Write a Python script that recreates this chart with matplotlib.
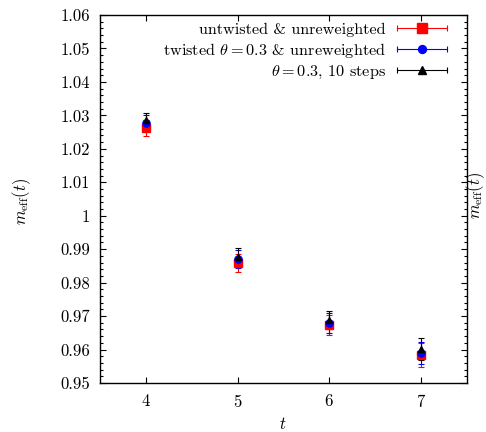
import numpy as np
import matplotlib
matplotlib.use('Agg')
import matplotlib.pyplot as plt
from matplotlib.lines import Line2D
from matplotlib.legend_handler import HandlerBase
from matplotlib.ticker import MultipleLocator, FuncFormatter

plt.rcParams['font.family'] = 'serif'
plt.rcParams['font.serif'] = ['cmr10', 'DejaVu Serif']
plt.rcParams['mathtext.fontset'] = 'cm'
plt.rcParams['axes.formatter.use_mathtext'] = True
plt.rcParams['font.size'] = 12

# effective mass per time slice
t = [4, 5, 6, 7]
m_untw = [1.0262, 0.9859, 0.9673, 0.9584]
e_untw = [0.0025, 0.0027, 0.0030, 0.0035]
m_tw = [1.0277, 0.9871, 0.9679, 0.9590]
e_tw = [0.0024, 0.0027, 0.0030, 0.0032]
m_rw = [1.0286, 0.9877, 0.9688, 0.9601]
e_rw = [0.0022, 0.0027, 0.0028, 0.0033]

labels = ['untwisted & unreweighted',
          r'twisted $\theta=0.3$ & unreweighted',
          r'$\theta=0.3$, 10 steps']
colors = ['#ff0000', '#0000ff', '#000000']
markers = ['s', 'o', '^']
msizes = [6.0, 5.2, 4.6]


class ErrBarHandler(HandlerBase):
    # horizontal sample line with end caps and marker in the middle
    def create_artists(self, legend, orig_handle, xdescent, ydescent,
                       width, height, fontsize, trans):
        y = height / 2 - ydescent
        x0, x1 = -xdescent, width - xdescent
        c = orig_handle.get_color()
        ln = Line2D([x0, x1], [y, y], color=c, lw=0.8)
        caps = Line2D([x0, x1], [y, y], ls='none', marker='|', ms=5,
                      mew=0.8, color=c)
        mk = Line2D([(x0 + x1) / 2], [y], ls='none',
                    marker=orig_handle.get_marker(),
                    ms=orig_handle.get_markersize() * 1.1, color=c)
        for a in (ln, caps, mk):
            a.set_transform(trans)
        return [ln, caps, mk]


fig = plt.figure(figsize=(4.86, 4.32), dpi=100)
fig.subplots_adjust(left=100/486, right=467/486, top=1-15/432, bottom=1-383/432)
ax = fig.add_subplot(111)

series = [(m_untw, e_untw), (m_tw, e_tw), (m_rw, e_rw)]
handles = []
for (m, e), c, mk, ms, lab in zip(series, colors, markers, msizes, labels):
    ax.errorbar(t, m, yerr=e, fmt=mk, color=c, ms=ms, elinewidth=0.8,
                capsize=2.2, capthick=0.8, ls='none')
    handles.append(Line2D([], [], color=c, marker=mk, ms=ms, label=lab))

ax.set_xlim(3.5, 7.5)
ax.set_ylim(0.95, 1.06)
ax.xaxis.set_major_locator(MultipleLocator(1))
ax.yaxis.set_major_locator(MultipleLocator(0.01))
ax.yaxis.set_minor_locator(MultipleLocator(0.002))
ax.yaxis.set_major_formatter(FuncFormatter(lambda v, p: '%g' % round(v, 3)))
ax.tick_params(which='both', direction='in', top=True, right=True, width=0.8)
ax.tick_params(which='major', length=4.5)
ax.tick_params(which='minor', length=2.5)
ax.tick_params(axis='y', pad=7)
ax.tick_params(axis='x', pad=7)
for s in ax.spines.values():
    s.set_linewidth(1.0)

ax.set_xlabel(r'$t$', va='center')
ax.xaxis.set_label_coords(0.4986, -0.112)
ax.set_ylabel(r'$m_{\mathrm{eff}}(t)$', va='center')
ax.yaxis.set_label_coords(-0.213, 0.495)
fig.text(0.978, 0.548, r'$m_{\mathrm{eff}}(t)$', rotation=90,
         ha='center', va='center')

ax.legend(handles=handles, handler_map={Line2D: ErrBarHandler()},
          loc='upper right', bbox_to_anchor=(0.9455, 0.98), frameon=False,
          markerfirst=False, handlelength=3.05, handletextpad=0.73,
          labelspacing=0.25, borderaxespad=0.0, borderpad=0.0,
          fontsize=11.7)

fig.savefig('out.png', dpi=100)
